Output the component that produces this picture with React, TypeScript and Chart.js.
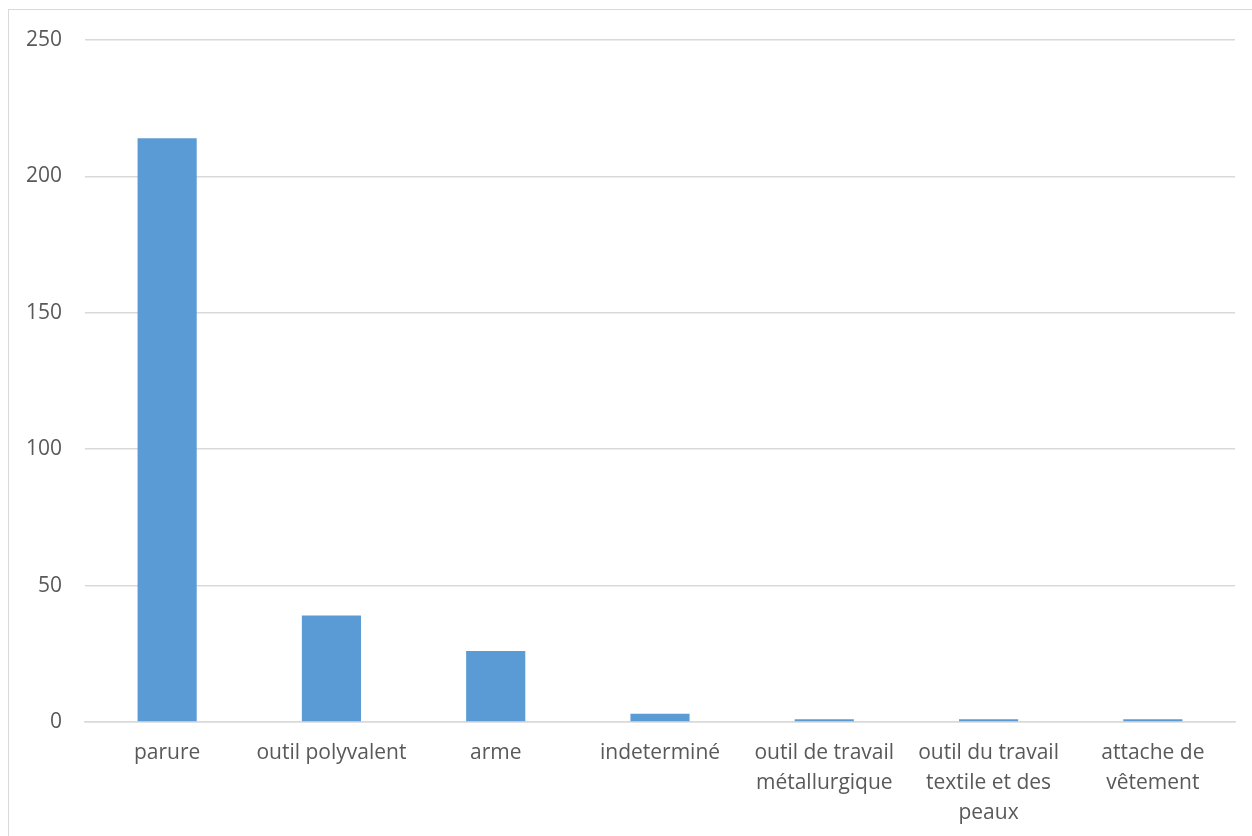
import React, { useEffect, useRef } from "react";
import { Chart, registerables } from "chart.js";

Chart.register(...registerables);

// Object categories (multi-line labels wrap as in the printed chart)
const categories: (string | string[])[] = [
  "parure",
  "outil polyvalent",
  "arme",
  "indeterminé",
  ["outil de travail", "métallurgique"],
  ["outil du travail", "textile et des", "peaux"],
  ["attache de", "vêtement"],
];

// Number of objects per category
const counts: number[] = [214, 39, 26, 3, 1, 1, 1];

const yTicks = { min: 0, max: 250, step: 50 };

const BAR_COLOR = "#5b9bd5";
const GRID_COLOR = "#d9d9d9";
const TEXT_COLOR = "#595959";
const FONT_FAMILY = "'Open Sans', 'Noto Sans', sans-serif";

export default function App() {
  const canvasRef = useRef<HTMLCanvasElement | null>(null);

  useEffect(() => {
    if (!canvasRef.current) return;
    const chart = new Chart(canvasRef.current, {
      type: "bar",
      data: {
        labels: categories,
        datasets: [
          {
            data: counts,
            backgroundColor: BAR_COLOR,
            borderWidth: 0,
            categoryPercentage: 1,
            barPercentage: 0.36,
          },
        ],
      },
      options: {
        responsive: false,
        animation: false,
        layout: { padding: { top: 40, right: 17, bottom: 0, left: 0 } },
        plugins: {
          legend: { display: false },
          tooltip: { enabled: false },
        },
        scales: {
          x: {
            grid: { display: false, drawTicks: false },
            border: { display: true, color: GRID_COLOR, width: 1.5 },
            ticks: {
              color: TEXT_COLOR,
              font: { family: FONT_FAMILY, size: 21, lineHeight: 30 / 21 },
              padding: 16,
              autoSkip: false,
              maxRotation: 0,
              minRotation: 0,
            },
            afterFit: (scale: any) => {
              scale.height = 114;
            },
          },
          y: {
            min: yTicks.min,
            max: yTicks.max,
            grid: { color: GRID_COLOR, lineWidth: 1.5, drawTicks: false },
            border: { display: false },
            ticks: {
              stepSize: yTicks.step,
              color: TEXT_COLOR,
              font: { family: FONT_FAMILY, size: 21 },
              padding: 23,
            },
            afterFit: (scale: any) => {
              scale.width = 85;
            },
          },
        },
      },
    });
    return () => chart.destroy();
  }, []);

  return (
    <div
      style={{
        position: "absolute",
        left: 0,
        top: 0,
        width: 1252,
        height: 836,
        background: "#ffffff",
        overflow: "hidden",
      }}
    >
      <div
        style={{
          position: "absolute",
          left: 8,
          top: 9,
          width: 1260,
          height: 840,
          borderLeft: "1.5px solid " + GRID_COLOR,
          borderTop: "1.5px solid " + GRID_COLOR,
          boxSizing: "border-box",
        }}
      />
      <canvas
        ref={canvasRef}
        width={1252}
        height={836}
        style={{ position: "absolute", left: 0, top: 0 }}
      />
    </div>
  );
}
